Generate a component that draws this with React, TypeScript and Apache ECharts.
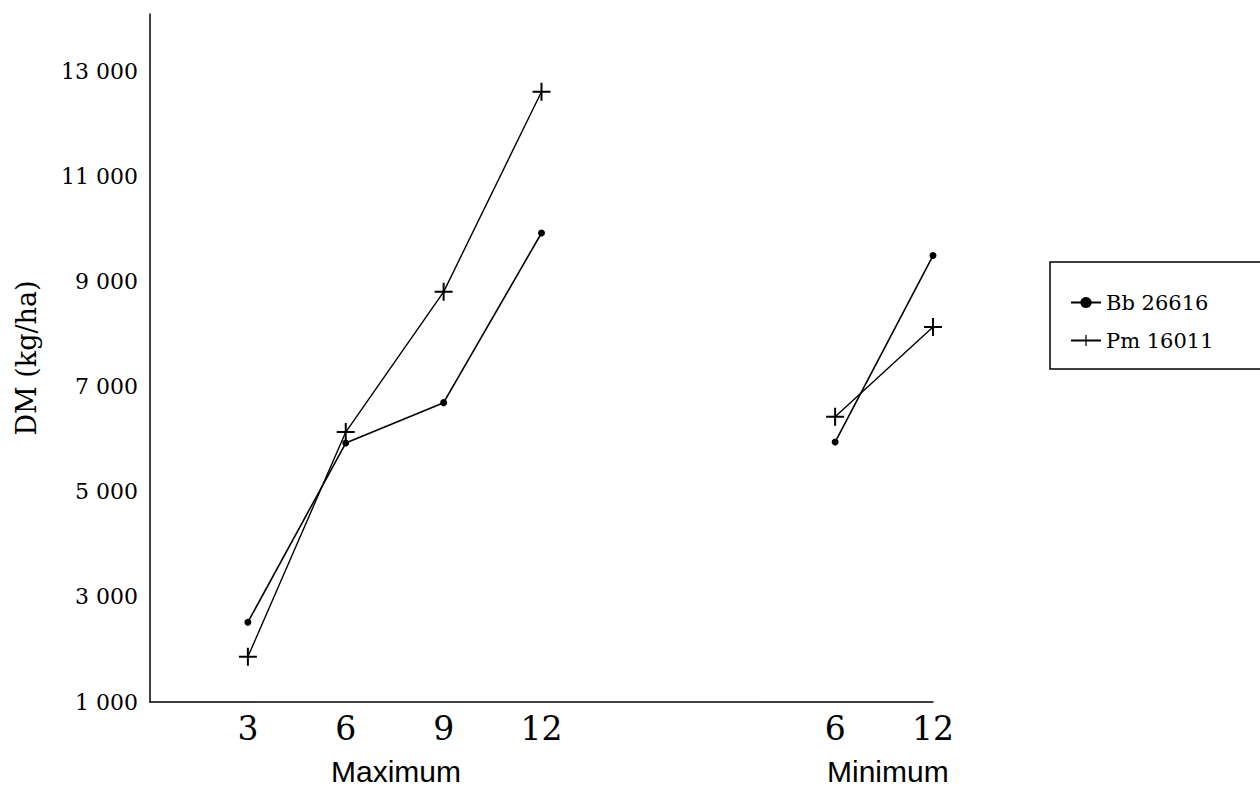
import React, { useEffect, useRef } from "react";
import * as echarts from "echarts";

const categories = ["", "3", "6", "9", "12", "", "", "6", "12"];
const groupNames = ["Maximum", "Minimum"];
const seriesNames = ["Bb 26616", "Pm 16011"];
const bbValues = [null, 2520, 5930, 6700, 9930, null, null, 5950, 9500];
const pmValues = [null, 1860, 6140, 8810, 12620, null, null, 6430, 8140];
const yTicks = [1000, 3000, 5000, 7000, 9000, 11000, 13000];

const SERIF = "DejaVu Serif";
const SANS = "Liberation Sans";

const fmt = (v: number) => {
  const s = String(v);
  return s.length > 3 ? s.slice(0, s.length - 3) + " " + s.slice(-3) : s;
};

export default function App() {
  const ref = useRef<HTMLDivElement>(null);
  useEffect(() => {
    if (!ref.current) return;
    const chart = echarts.init(ref.current, null, { renderer: "svg" });
    chart.setOption({
      animation: false,
      backgroundColor: "#ffffff",
      grid: { left: 150, right: 327, top: 14, bottom: 87, containLabel: false },
      xAxis: {
        type: "category",
        boundaryGap: false,
        data: categories,
        axisLine: { lineStyle: { color: "#000", width: 1.5 } },
        axisTick: { show: false },
        axisLabel: {
          interval: 0,
          color: "#000",
          fontFamily: SERIF,
          fontSize: 33,
          margin: 10,
        },
        splitLine: { show: false },
      },
      yAxis: {
        type: "value",
        min: 1000,
        max: 14100,
        interval: 1000,
        name: "DM (kg/ha)",
        nameLocation: "middle",
        nameGap: 110,
        nameRotate: 90,
        nameTextStyle: { color: "#000", fontFamily: SERIF, fontSize: 27 },
        axisLine: { show: true, lineStyle: { color: "#000", width: 1.5 } },
        axisTick: { show: false },
        splitLine: { show: false },
        axisLabel: {
          color: "#000",
          fontFamily: SERIF,
          fontSize: 22,
          margin: 12,
          showMaxLabel: false,
          formatter: (v: number) => (yTicks.indexOf(v) >= 0 ? fmt(v) : ""),
        },
      },
      legend: {
        orient: "vertical",
        left: 1050,
        top: 262,
        data: seriesNames,
        borderColor: "#000",
        borderWidth: 1.5,
        padding: [30, 60, 18, 20],
        itemGap: 17,
        itemWidth: 30,
        itemHeight: 14,
        textStyle: { color: "#000", fontFamily: SERIF, fontSize: 21 },
      },
      graphic: [
        {
          type: "text",
          left: 393 - 62,
          top: 756,
          style: { text: groupNames[0], fill: "#000", font: `30px ${SANS}`, lineHeight: 30 },
        },
        {
          type: "text",
          left: 885 - 58,
          top: 756,
          style: { text: groupNames[1], fill: "#000", font: `30px ${SANS}`, lineHeight: 30 },
        },
      ],
      series: [
        {
          name: seriesNames[0],
          type: "line",
          data: bbValues,
          connectNulls: false,
          symbol: "circle",
          symbolSize: 7,
          itemStyle: { color: "#000" },
          lineStyle: { color: "#000", width: 1.6 },
        },
        {
          name: seriesNames[1],
          type: "line",
          data: pmValues,
          connectNulls: false,
          symbol: "path://M-1,-9H1V9H-1Z M-9,-1H9V1H-9Z",
          symbolSize: 18,
          itemStyle: { color: "#000" },
          lineStyle: { color: "#000", width: 1.4 },
        },
      ],
    });
    return () => chart.dispose();
  }, []);
  return (
    <div
      ref={ref}
      style={{ position: "fixed", left: 0, top: 0, width: 1260, height: 789 }}
    />
  );
}
